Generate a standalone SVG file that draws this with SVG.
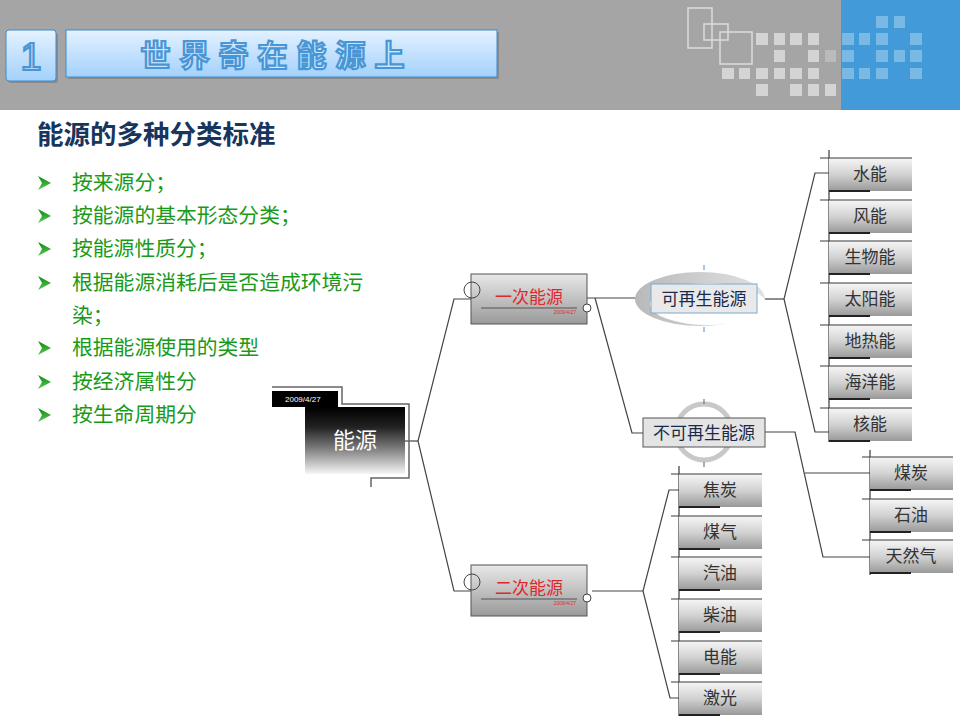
<svg xmlns="http://www.w3.org/2000/svg" width="960" height="720" viewBox="0 0 960 720">
<defs>
<linearGradient id="gHead" x1="0" y1="0" x2="0" y2="1"><stop offset="0" stop-color="#e4f2ff"/><stop offset="1" stop-color="#a3d1fb"/></linearGradient>
<linearGradient id="gLeaf" x1="0" y1="0" x2="0" y2="1"><stop offset="0" stop-color="#f6f6f6"/><stop offset="0.5" stop-color="#d2d2d2"/><stop offset="1" stop-color="#999"/></linearGradient>
<linearGradient id="gMid" x1="0" y1="0" x2="0" y2="1"><stop offset="0" stop-color="#e8e8e8"/><stop offset="1" stop-color="#9a9a9a"/></linearGradient>
<linearGradient id="gRoot" x1="0" y1="0" x2="0" y2="1"><stop offset="0" stop-color="#000"/><stop offset="0.3" stop-color="#222"/><stop offset="0.6" stop-color="#777"/><stop offset="1" stop-color="#f6f6f6"/></linearGradient>
<linearGradient id="gEll" x1="0" y1="0" x2="1" y2="0"><stop offset="0" stop-color="#b9b9b9"/><stop offset="1" stop-color="#e2e2e2"/></linearGradient>
<linearGradient id="gArrow" x1="0" y1="0" x2="0" y2="1"><stop offset="0" stop-color="#0a8a0a"/><stop offset="1" stop-color="#5cc85c"/></linearGradient>
<style>
.sq{fill:#d4d4d4}
.bsq{fill:#7ab9e6}
.ol{fill:none;stroke:#dcdcdc;stroke-width:1.5}
.title{font-family:"Noto Sans CJK SC",sans-serif;font-weight:bold;fill:#cde5fb;stroke:#4896d6;stroke-width:2.2}
.sub{font-family:"Noto Sans CJK SC",sans-serif;font-weight:bold;font-size:26.5px;fill:#17365d}
.bul{font-family:"Noto Sans CJK SC",sans-serif;font-size:20.8px;fill:#1a9a1a}
.arw{fill:url(#gArrow)}
.leaf{fill:url(#gLeaf)}
.lt{font-family:"Liberation Serif","Noto Sans CJK SC",serif;font-size:17px;fill:#333;text-anchor:middle}
.ln{stroke:#3a3a3a;stroke-width:1.2;fill:none}
.lnb{stroke:#222;stroke-width:2;fill:none}
.con{stroke:#444;stroke-width:1.2;fill:none}
.mid{fill:url(#gMid);stroke:#555;stroke-width:1}
.midt{font-family:"Noto Sans CJK SC",sans-serif;font-size:17px;fill:#e0282c;text-anchor:middle}
.date{font-family:"Liberation Sans",sans-serif;font-size:5px;fill:#e0282c;text-anchor:end}
.cat{font-family:"Noto Sans CJK SC",sans-serif;font-size:17px;fill:#1a2a4a;text-anchor:middle}
</style>
</defs>
<rect width="960" height="720" fill="#fff"/>
<!-- header -->
<rect x="0" y="0" width="960" height="110" fill="#a5a5a5"/>
<rect x="841" y="0" width="119" height="110" fill="#429ad8"/>
<rect class="ol" x="688" y="8" width="24" height="40"/>
<rect class="ol" x="704" y="24" width="24" height="16"/>
<rect class="ol" x="720" y="32" width="32" height="32"/>
<g>
<rect class="sq" x="756" y="33" width="12" height="12"/><rect class="sq" x="774" y="33" width="11" height="12"/><rect class="sq" x="790" y="33" width="12" height="12"/><rect class="sq" x="808" y="33" width="11" height="12"/>
<rect class="sq" x="774" y="50" width="11" height="12"/><rect class="sq" x="808" y="50" width="11" height="12"/><rect x="825" y="50" width="11" height="12" fill="#bbb"/>
<rect class="sq" x="722" y="68" width="12" height="11"/><rect class="sq" x="739" y="68" width="11" height="11"/><rect class="sq" x="756" y="68" width="12" height="11"/><rect class="sq" x="774" y="68" width="11" height="11"/><rect class="sq" x="790" y="68" width="12" height="11"/><rect class="sq" x="808" y="68" width="11" height="11"/>
<rect class="sq" x="756" y="84" width="12" height="12"/><rect class="sq" x="790" y="84" width="12" height="12"/><rect class="sq" x="808" y="84" width="11" height="12"/><rect class="sq" x="825" y="84" width="11" height="12"/>
<rect class="bsq" x="876" y="16" width="12" height="12"/><rect class="bsq" x="894" y="16" width="11" height="12"/>
<rect class="bsq" x="842" y="33" width="12" height="12"/><rect class="bsq" x="859" y="33" width="11" height="12"/><rect class="bsq" x="876" y="33" width="12" height="12"/><rect class="bsq" x="910" y="33" width="12" height="12"/>
<rect class="bsq" x="842" y="50" width="12" height="12"/><rect class="bsq" x="876" y="50" width="12" height="12"/><rect class="bsq" x="894" y="50" width="11" height="12"/><rect class="bsq" x="910" y="50" width="12" height="12"/>
<rect class="bsq" x="842" y="68" width="12" height="11"/><rect class="bsq" x="859" y="68" width="11" height="11"/><rect class="bsq" x="876" y="68" width="12" height="11"/><rect class="bsq" x="910" y="68" width="12" height="11"/>
</g>
<rect x="8" y="33" width="50" height="50" rx="3" fill="#6f6f6f" opacity="0.5"/>
<rect x="6" y="30" width="50" height="51" rx="3" fill="url(#gHead)" stroke="#3f8ccc" stroke-width="1"/>
<text class="title" x="31" y="70" font-size="38" text-anchor="middle" style="font-family:'Liberation Sans',sans-serif;font-weight:normal">1</text>
<rect x="68" y="32" width="431" height="47" fill="#6f6f6f" opacity="0.5"/>
<rect x="66" y="30" width="431" height="47" fill="url(#gHead)" stroke="#3f8ccc" stroke-width="1"/>
<text class="title" x="277" y="66" font-size="30" text-anchor="middle" letter-spacing="9">世界奇在能源上</text>

<!-- left text -->
<text class="sub" x="37" y="144">能源的多种分类标准</text>
<g>
<path class="arw" d="M38,176 L51,183 L38,190 L42,183 Z"/>
<path class="arw" d="M38,209 L51,216 L38,223 L42,216 Z"/>
<path class="arw" d="M38,242 L51,249 L38,256 L42,249 Z"/>
<path class="arw" d="M38,276 L51,283 L38,290 L42,283 Z"/>
<path class="arw" d="M38,341 L51,348 L38,355 L42,348 Z"/>
<path class="arw" d="M38,375 L51,382 L38,389 L42,382 Z"/>
<path class="arw" d="M38,408 L51,415 L38,422 L42,415 Z"/>
</g>
<text class="bul" x="72" y="190">按来源分；</text>
<text class="bul" x="72" y="223">按能源的基本形态分类；</text>
<text class="bul" x="72" y="256">按能源性质分；</text>
<text class="bul" x="72" y="290">根据能源消耗后是否造成环境污</text>
<text class="bul" x="72" y="323">染；</text>
<text class="bul" x="72" y="355">根据能源使用的类型</text>
<text class="bul" x="72" y="389">按经济属性分</text>
<text class="bul" x="72" y="422">按生命周期分</text>

<!-- connectors -->
<g id="connectors">
<path class="con" d="M405,441 H418"/>
<path class="con" d="M471,299 H454 L418,441 L454,591 H471"/>
<path class="con" d="M587,298 H636"/>
<path d="M636,298 H651" stroke="#8ab4d8" stroke-width="1.5"/>
<path class="con" d="M595,298 L632,433 H643"/>
<path class="con" d="M757,299 H784"/>
<path class="con" d="M829,173 H815 L784,299 L815,432 H829"/>
<path class="con" d="M765,432 H795 L823,557 H870"/>
<path class="con" d="M805,473 H870"/>
<path class="con" d="M592,591 H643"/>
<path class="con" d="M679,490 H669 L643,591 L670,698 H679"/>
</g>

<!-- root -->
<g id="root">
<path d="M272,387 H342 V404 H409 V478 H371 V487" fill="none" stroke="#666" stroke-width="1.5"/>
<rect x="272" y="391" width="66" height="16" fill="#000"/>
<text x="285" y="402" font-family="Liberation Sans,sans-serif" font-size="8" fill="#fff">2009/4/27</text>
<rect x="305" y="407" width="100" height="67" fill="url(#gRoot)"/>
<text x="355" y="448" font-family="Noto Sans CJK SC,sans-serif" font-size="22" fill="#fff" text-anchor="middle">能源</text>
</g>

<!-- primary -->
<g id="primary">
<rect class="mid" x="471" y="274" width="116" height="50"/>
<circle cx="472" cy="290" r="8" fill="none" stroke="#444" stroke-width="1"/>
<circle cx="587" cy="308" r="4" fill="#fff" stroke="#444" stroke-width="1"/>
<text class="midt" x="529" y="303">一次能源</text>
<line x1="481" y1="308" x2="577" y2="308" stroke="#555" stroke-width="1.2"/>
<text class="date" x="576" y="314">2009/4/27</text>
</g>
<g id="secondary">
<rect class="mid" x="471" y="565" width="116" height="51"/>
<circle cx="472" cy="582" r="8" fill="none" stroke="#444" stroke-width="1"/>
<circle cx="587" cy="598" r="4" fill="#fff" stroke="#444" stroke-width="1"/>
<text class="midt" x="529" y="594">二次能源</text>
<line x1="481" y1="599" x2="577" y2="599" stroke="#555" stroke-width="1.2"/>
<text class="date" x="576" y="605">2009/4/27</text>
</g>

<!-- renewable -->
<g id="renewable">
<ellipse cx="700" cy="299" rx="65" ry="27" fill="url(#gEll)"/>
<ellipse cx="708" cy="304" rx="58" ry="21" fill="#fff"/>
<line x1="704" y1="265" x2="704" y2="270" stroke="#8ab4d8" stroke-width="1.5"/>
<line x1="704" y1="327" x2="704" y2="332" stroke="#8ab4d8" stroke-width="1.5"/>
<rect x="651" y="284" width="106" height="29" fill="#e9e9e9" stroke="#7aaad0" stroke-width="1"/>
<text class="cat" x="704" y="305">可再生能源</text>
</g>
<g id="nonrenewable">
<circle cx="704" cy="432" r="28" fill="#fff" stroke="#c8c8c8" stroke-width="5"/>
<line x1="704" y1="399" x2="704" y2="404" stroke="#777" stroke-width="1.2"/>
<line x1="704" y1="462" x2="704" y2="467" stroke="#777" stroke-width="1.2"/>
<rect x="643" y="418" width="122" height="29" fill="#e4e4e4" stroke="#555" stroke-width="1"/>
<text class="cat" x="704" y="439">不可再生能源</text>
</g>

<!-- leaves column A -->
<line class="ln" x1="829" y1="150" x2="829" y2="442"/>
<g id="n-water"><rect class="leaf" x="829" y="158" width="83" height="33"/><line class="ln" x1="820" y1="158" x2="912" y2="158"/><line class="lnb" x1="829" y1="191" x2="870" y2="191"/><text class="lt" x="870" y="180">水能</text></g>
<g id="n-wind"><rect class="leaf" x="829" y="200" width="83" height="33"/><line class="ln" x1="820" y1="200" x2="912" y2="200"/><line class="lnb" x1="829" y1="233" x2="870" y2="233"/><text class="lt" x="870" y="222">风能</text></g>
<g id="n-bio"><rect class="leaf" x="829" y="241" width="83" height="33"/><line class="ln" x1="820" y1="241" x2="912" y2="241"/><line class="lnb" x1="829" y1="274" x2="870" y2="274"/><text class="lt" x="870" y="263">生物能</text></g>
<g id="n-solar"><rect class="leaf" x="829" y="283" width="83" height="33"/><line class="ln" x1="820" y1="283" x2="912" y2="283"/><line class="lnb" x1="829" y1="316" x2="870" y2="316"/><text class="lt" x="870" y="305">太阳能</text></g>
<g id="n-geo"><rect class="leaf" x="829" y="325" width="83" height="33"/><line class="ln" x1="820" y1="325" x2="912" y2="325"/><line class="lnb" x1="829" y1="358" x2="870" y2="358"/><text class="lt" x="870" y="347">地热能</text></g>
<g id="n-ocean"><rect class="leaf" x="829" y="366" width="83" height="33"/><line class="ln" x1="820" y1="366" x2="912" y2="366"/><line class="lnb" x1="829" y1="399" x2="870" y2="399"/><text class="lt" x="870" y="388">海洋能</text></g>
<g id="n-nuclear"><rect class="leaf" x="829" y="408" width="83" height="33"/><line class="ln" x1="820" y1="408" x2="912" y2="408"/><line class="lnb" x1="829" y1="441" x2="870" y2="441"/><text class="lt" x="870" y="430">核能</text></g>

<!-- leaves column B -->
<line class="ln" x1="870" y1="450" x2="870" y2="575"/>
<g id="n-coal"><rect class="leaf" x="870" y="457" width="83" height="33"/><line class="ln" x1="862" y1="457" x2="953" y2="457"/><line class="lnb" x1="870" y1="490" x2="911" y2="490"/><text class="lt" x="911" y="479">煤炭</text></g>
<g id="n-oil"><rect class="leaf" x="870" y="499" width="83" height="33"/><line class="ln" x1="862" y1="499" x2="953" y2="499"/><line class="lnb" x1="870" y1="532" x2="911" y2="532"/><text class="lt" x="911" y="521">石油</text></g>
<g id="n-gas"><rect class="leaf" x="870" y="540" width="83" height="33"/><line class="ln" x1="862" y1="540" x2="953" y2="540"/><line class="lnb" x1="870" y1="573" x2="911" y2="573"/><text class="lt" x="911" y="562">天然气</text></g>

<!-- leaves column C -->
<line class="ln" x1="679" y1="466" x2="679" y2="716"/>
<g id="n-coke"><rect class="leaf" x="679" y="474" width="83" height="33"/><line class="ln" x1="671" y1="474" x2="762" y2="474"/><line class="lnb" x1="679" y1="507" x2="720" y2="507"/><text class="lt" x="720" y="496">焦炭</text></g>
<g id="n-coalgas"><rect class="leaf" x="679" y="516" width="83" height="33"/><line class="ln" x1="671" y1="516" x2="762" y2="516"/><line class="lnb" x1="679" y1="549" x2="720" y2="549"/><text class="lt" x="720" y="538">煤气</text></g>
<g id="n-petrol"><rect class="leaf" x="679" y="557" width="83" height="33"/><line class="ln" x1="671" y1="557" x2="762" y2="557"/><line class="lnb" x1="679" y1="590" x2="720" y2="590"/><text class="lt" x="720" y="579">汽油</text></g>
<g id="n-diesel"><rect class="leaf" x="679" y="599" width="83" height="33"/><line class="ln" x1="671" y1="599" x2="762" y2="599"/><line class="lnb" x1="679" y1="632" x2="720" y2="632"/><text class="lt" x="720" y="621">柴油</text></g>
<g id="n-elec"><rect class="leaf" x="679" y="641" width="83" height="33"/><line class="ln" x1="671" y1="641" x2="762" y2="641"/><line class="lnb" x1="679" y1="674" x2="720" y2="674"/><text class="lt" x="720" y="663">电能</text></g>
<g id="n-laser"><rect class="leaf" x="679" y="682" width="83" height="33"/><line class="ln" x1="671" y1="682" x2="762" y2="682"/><line class="lnb" x1="679" y1="715" x2="720" y2="715"/><text class="lt" x="720" y="704">激光</text></g>
</svg>
